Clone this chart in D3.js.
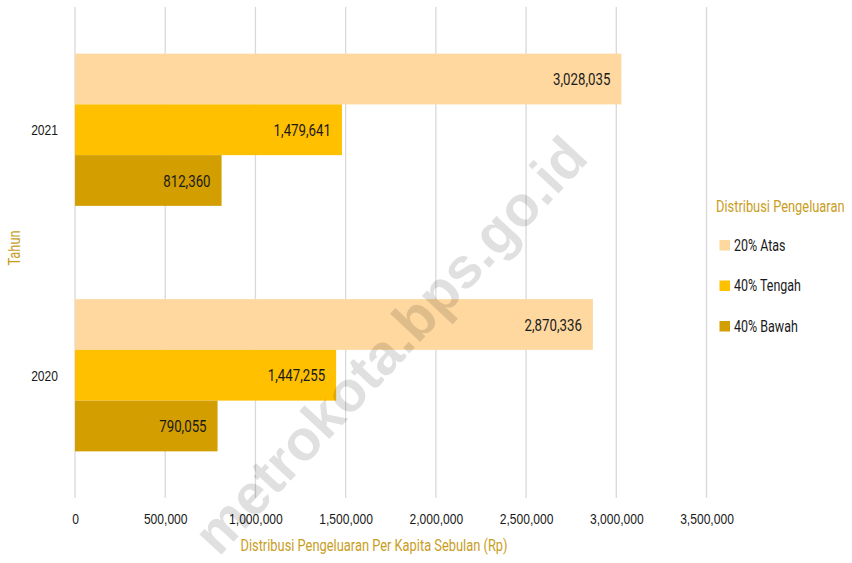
<!DOCTYPE html>
<html>
<head>
<meta charset="utf-8">
<script src="https://cdn.jsdelivr.net/npm/d3@7"></script>
<style>
  body { margin: 0; background: #fff; }
  svg { display: block; font-family: Roboto, "Noto Sans", sans-serif; }
  .grid line { stroke: #d9d9d9; stroke-width: 1.3; }
  .axis text { fill: #1a1a1a; }
</style>
</head>
<body>
<svg class="chart" width="852" height="563"></svg>
<script>
// data
var years = ["2021", "2020"];
var seriesNames = ["20% Atas", "40% Tengah", "40% Bawah"];
var atas = [3028035, 2870336];
var tengah = [1479641, 1447255];
var bawah = [812360, 790055];
var xTicks = [0, 500000, 1000000, 1500000, 2000000, 2500000, 3000000, 3500000];
var colors = ["#fed89f", "#ffc000", "#d29e00"];

var svg = d3.select(".chart");
var margin = { top: 7, right: 145, bottom: 65, left: 75 };
var height = +svg.attr("height") - margin.top - margin.bottom;

// narrow font look: squeeze text horizontally
var SX = 0.78;
function condense(sel) {
  sel.each(function () {
    var t = d3.select(this);
    var x0 = +t.attr("x") || 0;
    t.attr("x", x0 / SX);
    var tr = t.attr("transform") || "";
    t.attr("transform", tr + " scale(" + SX + ",1)");
  });
}

var x = d3.scaleLinear().domain([0, 3500000]).range([0, 631.5]);
var y = d3.scaleBand().domain(years).range([0, height]).paddingInner(0.38).paddingOuter(0.19);
var ySub = d3.scaleBand().domain(seriesNames).range([0, y.bandwidth()]);

var fmt = d3.format(",");

var g = svg.append("g")
  .attr("transform", "translate(" + margin.left + "," + margin.top + ")");

// gridlines
g.append("g")
  .attr("class", "grid")
  .selectAll("line")
  .data(xTicks)
  .enter()
  .append("line")
  .attr("x1", function (d) { return x(d); })
  .attr("x2", function (d) { return x(d); })
  .attr("y1", 0)
  .attr("y2", height);

var rows = years.map(function (yr, i) {
  return { year: yr, values: [atas[i], tengah[i], bawah[i]] };
});

var groups = g.selectAll(".year")
  .data(rows)
  .enter()
  .append("g")
  .attr("class", "year")
  .attr("transform", function (d) { return "translate(0," + y(d.year) + ")"; });

var bars = groups.selectAll(".bar")
  .data(function (d) {
    return d.values.map(function (v, j) { return { name: seriesNames[j], value: v, idx: j }; });
  })
  .enter();

bars.append("rect")
  .attr("class", "bar")
  .attr("x", 0)
  .attr("y", function (d) { return ySub(d.name); })
  .attr("width", function (d) { return x(d.value); })
  .attr("height", ySub.bandwidth())
  .attr("fill", function (d) { return colors[d.idx]; });

bars.append("text")
  .attr("x", function (d) { return x(d.value) - 11; })
  .attr("y", function (d) { return ySub(d.name) + ySub.bandwidth() / 2; })
  .attr("dy", "0.36em")
  .attr("text-anchor", "end")
  .attr("fill", "#1a1a1a")
  .style("font-size", "17px")
  .text(function (d) { return fmt(d.value); })
  .call(condense);

// x axis
var xAxis = d3.axisBottom(x).tickValues(xTicks).tickFormat(fmt).tickSize(0).tickPadding(0);
var gx = g.append("g")
  .attr("class", "axis axis--x")
  .attr("transform", "translate(0," + (height + 15) + ")")
  .call(xAxis);
gx.select(".domain").remove();
gx.selectAll("text").style("font-size", "15.5px").attr("dy", "0.71em").call(condense);

// y axis
var yAxis = d3.axisLeft(y).tickSize(0).tickPadding(17);
var gy = g.append("g")
  .attr("class", "axis axis--y")
  .call(yAxis);
gy.select(".domain").remove();
gy.selectAll("text").style("font-size", "15.5px").attr("dy", "0.36em").call(condense);

// axis titles
svg.append("text")
  .attr("x", 374)
  .attr("y", 551)
  .attr("text-anchor", "middle")
  .attr("fill", "#c99d1d")
  .style("font-size", "16.5px")
  .text("Distribusi Pengeluaran Per Kapita Sebulan (Rp)")
  .call(condense);

svg.append("text")
  .attr("transform", "translate(20,248) rotate(-90)")
  .attr("text-anchor", "middle")
  .attr("fill", "#c99d1d")
  .style("font-size", "16.5px")
  .text("Tahun")
  .call(condense);

// legend
var legend = svg.append("g").attr("transform", "translate(716,0)");
legend.append("text")
  .attr("x", 0)
  .attr("y", 212)
  .attr("fill", "#c99d1d")
  .style("font-size", "16.5px")
  .text("Distribusi Pengeluaran")
  .call(condense);

var item = legend.selectAll(".item")
  .data(seriesNames)
  .enter()
  .append("g")
  .attr("class", "item")
  .attr("transform", function (d, i) { return "translate(0," + (245 + i * 40.5) + ")"; });

item.append("rect")
  .attr("x", 3.5)
  .attr("y", -5)
  .attr("width", 10.5)
  .attr("height", 10.5)
  .attr("fill", function (d, i) { return colors[i]; });

item.append("text")
  .attr("x", 18)
  .attr("dy", "0.36em")
  .attr("fill", "#1a1a1a")
  .style("font-size", "16px")
  .text(function (d) { return d; })
  .call(condense);

// watermark
svg.append("text")
  .attr("transform", "translate(390,345) rotate(-47)")
  .attr("text-anchor", "middle")
  .attr("dy", "0.35em")
  .attr("fill", "#000")
  .attr("fill-opacity", 0.12)
  .style("font-family", "'Liberation Sans', Arial, sans-serif")
  .style("font-weight", "bold")
  .style("font-size", "57px")
  .text("metrokota.bps.go.id");
</script>
</body>
</html>
